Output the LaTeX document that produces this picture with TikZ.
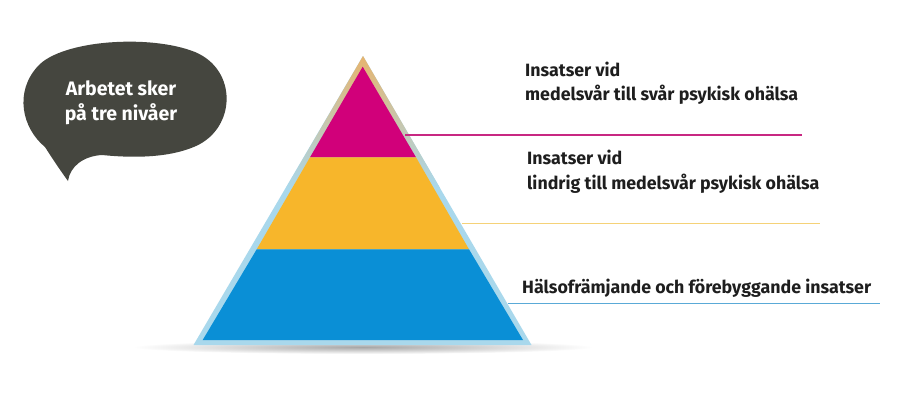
\documentclass[tikz,border=0pt]{standalone}
\usepackage{fontspec}
\setmainfont{Fira Sans}
\usetikzlibrary{shadings}
\definecolor{bubble}{HTML}{45463F}
\definecolor{magfill}{HTML}{D1007A}
\definecolor{yel}{HTML}{F7B62B}
\definecolor{blu}{HTML}{0A8FD6}
\definecolor{lblue}{HTML}{A9D8EC}
\definecolor{tanc}{HTML}{E6B46E}
\definecolor{txt}{HTML}{1E1E1E}
\tikzset{
  lbltext/.style={anchor=base west, inner sep=0pt, text=txt, font=\fontsize{17.8}{24.5}\selectfont\bfseries, align=left},
  bubbletext/.style={inner sep=0pt, text=white, font=\fontsize{19.5}{25}\selectfont\bfseries, align=center},
  leader/.style={line width=1.1pt}
}
\begin{document}
\begin{tikzpicture}[x=1pt,y=-1pt]
\useasboundingbox[fill=white] (0,0) rectangle (900,400);
% shadow
\shade[inner color=black!35, outer color=white] (363,347) ellipse [x radius=230, y radius=7];
% outer triangle
\fill[lblue] (363,56) -- (531.5,345) -- (193.5,345) -- cycle;
\shade[top color=tanc, bottom color=lblue] (363,56) -- (440,188) -- (286,188) -- cycle;
% layers
\fill[magfill] (362.7,66.7) -- (416,157.3) -- (310,157.3) -- cycle;
\fill[yel] (310,157.3) -- (416,157.3) -- (469,249.3) -- (256.7,249.3) -- cycle;
\fill[blu] (256.7,249.3) -- (469,249.3) -- (523,340) -- (202.7,340) -- cycle;
% bubble
\fill[bubble] (68,181) .. controls (60,170) and (52,158) .. (45,147)
  .. controls (22,128) and (14,92) .. (38,66)
  .. controls (62,40) and (150,34) .. (195,52)
  .. controls (238,70) and (236,128) .. (196,146)
  .. controls (165,160) and (122,157) .. (102,155)
  .. controls (84,156) and (70,166) .. (68,181) -- cycle;
\node[bubbletext, anchor=base] (bt) at (121,120) {Arbetet sker\\på tre nivåer};
% labels
\node[lbltext] (l1) at (525,100.7) {Insatser vid\\medelsvår till svår psykisk ohälsa};
\node[lbltext] (l2) at (527,189) {Insatser vid\\lindrig till medelsvår psykisk ohälsa};
\node[lbltext] (l3) at (522,293) {Hälsofrämjande och förebyggande insatser};
% leaders
\coordinate (a1) at (405,135);
\coordinate (b1) at (802,135);
\coordinate (a2) at (462,223.3);
\coordinate (b2) at (820,223.3);
\coordinate (a3) at (508,303.3);
\coordinate (b3) at (880,303.3);
\draw[leader, draw={rgb,255:red,200;green,40;blue,130}] (a1) -- (b1);
\draw[leader, draw={rgb,255:red,245;green,210;blue,120}] (a2) -- (b2);
\draw[leader, draw={rgb,255:red,90;green,170;blue,215}] (a3) -- (b3);
\end{tikzpicture}
\end{document}
